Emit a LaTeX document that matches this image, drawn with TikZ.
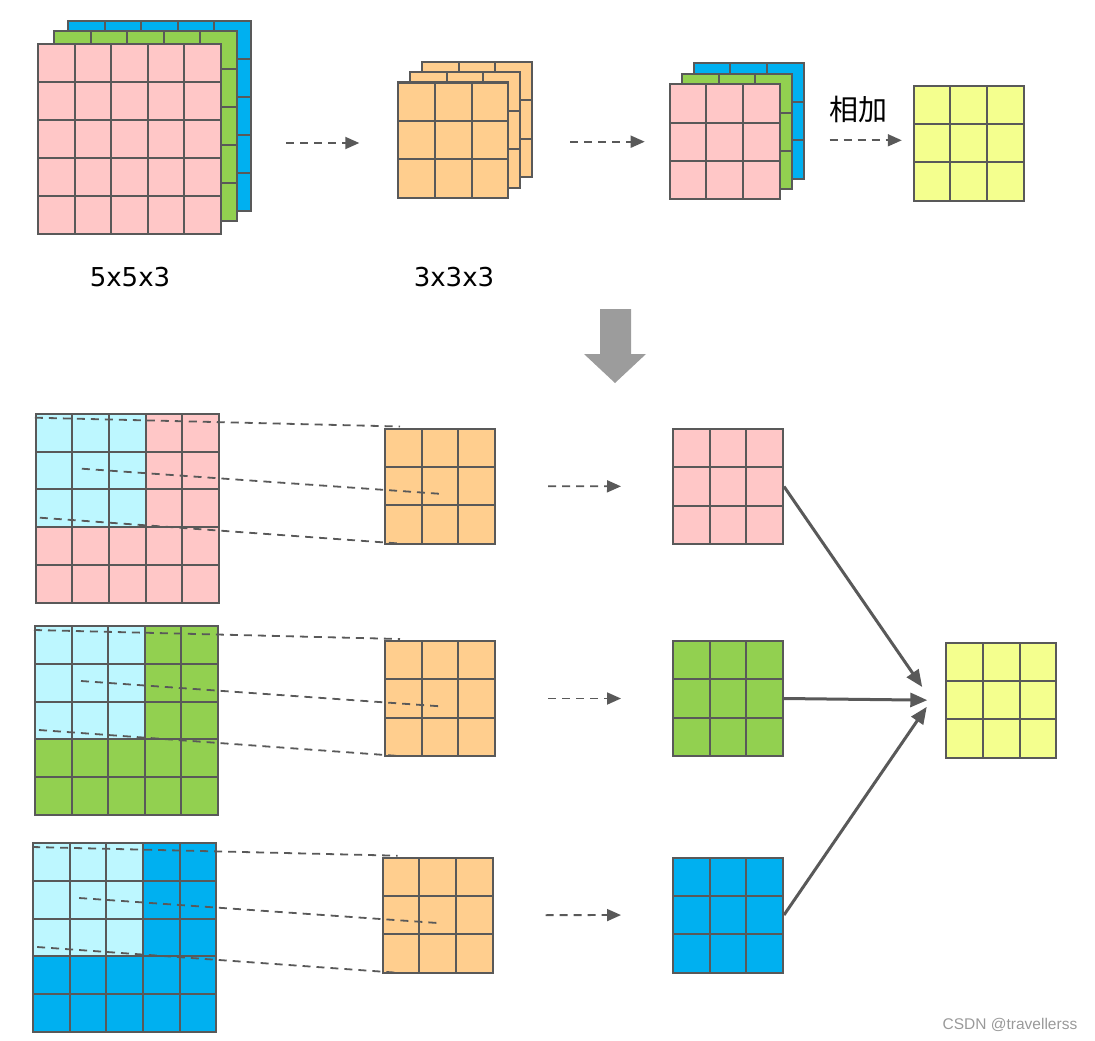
\documentclass[tikz,border=0pt]{standalone}
\usepackage{fontspec}
\setmainfont{DejaVu Sans}
\newfontfamily\cjk{Noto Sans CJK SC}
\newfontfamily\wmfont{Liberation Sans}
\usetikzlibrary{calc,arrows.meta}

\definecolor{edge}{HTML}{595959}
\definecolor{pinkc}{HTML}{FFC7C7}
\definecolor{greenc}{HTML}{92D050}
\definecolor{bluec}{HTML}{00B0F0}
\definecolor{orangec}{HTML}{FFCE8E}
\definecolor{yellowc}{HTML}{F4FF8E}
\definecolor{cyanlt}{HTML}{BDF7FF}
\definecolor{bigarrow}{HTML}{9C9C9C}

% inner lines of an n x n map
\newcommand{\gridlines}[1]{%
  \foreach \k in {1,...,#1}{%
    \draw[edge, line width=2pt]
      ($(path picture bounding box.south west)!{\k/(#1+1)}!(path picture bounding box.south east)$) --
      ($(path picture bounding box.north west)!{\k/(#1+1)}!(path picture bounding box.north east)$);
    \draw[edge, line width=2pt]
      ($(path picture bounding box.south west)!{\k/(#1+1)}!(path picture bounding box.north west)$) --
      ($(path picture bounding box.south east)!{\k/(#1+1)}!(path picture bounding box.north east)$);
  }}

\tikzset{
  cellbox/.style={draw=edge, line width=2pt, inner sep=0pt},
  bigmap/.style={cellbox, minimum width=183pt, minimum height=189pt, path picture={\gridlines{4}}},
  smallmap/.style={cellbox, minimum width=110pt, minimum height=115pt, path picture={\gridlines{2}}},
  scanmap/.style={cellbox, minimum width=183pt, minimum height=189pt,
    path picture={\fill[cyanlt] (path picture bounding box.north west) rectangle
      ($(path picture bounding box.north west)!0.6!(path picture bounding box.south east)$);
      \gridlines{4}}},
  link/.style={edge, line width=1.8pt, dash pattern=on 8pt off 6pt},
  flow/.style={link, -{Triangle[length=14pt,width=12pt]}},
  merge/.style={edge, line width=3pt, -{Triangle[length=17pt,width=14pt]}},
  dimtext/.style={font=\fontsize{26}{30}\selectfont},
}

\begin{document}
\begin{tikzpicture}[x=1pt, y=-1pt]
\useasboundingbox (0,0) rectangle (1095,1041);

% top: 5x5x3 input, 3x3x3 kernel, 3 channel outputs, sum
\begin{scope}
\node[bigmap, fill=bluec] (inB) at (159.5,116) {};
\node[bigmap, fill=greenc] (inG) at (145.5,126) {};
\node[bigmap, fill=pinkc] (inR) at (129.5,139) {};

\node[smallmap, fill=orangec] (kerC) at (477,119.5) {};
\node[smallmap, fill=orangec] (kerB) at (465,130) {};
\node[smallmap, fill=orangec] (kerA) at (453.3,140) {};

\node[smallmap, fill=bluec] (outB) at (748.7,121) {};
\node[smallmap, fill=greenc] (outG) at (737,131.7) {};
\node[smallmap, fill=pinkc] (outR) at (724.7,141.7) {};

\node[smallmap, fill=yellowc] (sumTop) at (968.8,143.3) {};

\node[dimtext] (dimIn) at (130,277) {5x5x3};
\node[dimtext] (dimKer) at (454,277) {3x3x3};
\node[font=\cjk\fontsize{29}{32}\selectfont] (addText) at (858,109) {相加};

\draw[flow, shorten <=34pt, shorten >=38pt] ([yshift=-3pt]inB.east |- kerA) -- ([yshift=-3pt]kerA.west);
\draw[flow, shorten <=37pt, shorten >=24pt] (kerC.east |- outR) -- (outR.west);
\draw[flow, shorten <=25pt, shorten >=11pt] ([yshift=3pt]outB.east |- sumTop) -- ([yshift=3pt]sumTop.west);
\end{scope}

% big arrow down
\fill[bigarrow] (600,309) -- (631,309) -- (631,354) -- (646,354) -- (615,383) -- (584,354) -- (600,354) -- cycle;

% bottom: one channel at a time
\begin{scope}
\node[scanmap, fill=pinkc] (scan1) at (127.3,508.2) {};
\node[scanmap, fill=greenc] (scan2) at (126.5,720.5) {};
\node[scanmap, fill=bluec] (scan3) at (124.7,937.5) {};

\node[smallmap, fill=orangec] (kern1) at (440,486) {};
\node[smallmap, fill=orangec] (kern2) at (440,698.5) {};
\node[smallmap, fill=orangec] (kern3) at (437.7,915.2) {};

\node[smallmap, fill=pinkc] (res1) at (728,486.5) {};
\node[smallmap, fill=greenc] (res2) at (728,698.5) {};
\node[smallmap, fill=bluec] (res3) at (728,915) {};

\node[smallmap, fill=yellowc] (total) at (1001.3,700.2) {};
\coordinate (hub) at ([xshift=-14pt]total.west);

\foreach \r in {1,2,3}{
  \draw[link] ([shift={(0,5)}]scan\r.north west) -- ([shift={(16,-1)}]kern\r.north west);
  \draw[link] ([shift={(47,56)}]scan\r.north west) -- ([shift={(3,8)}]kern\r.center);
  \draw[link] ([shift={(5,105)}]scan\r.north west) -- ([shift={(15,-1)}]kern\r.south west);
  \draw[flow, shorten <=52pt, shorten >=51pt] (kern\r.east) -- (res\r.west);
}

\draw[merge, shorten >=16pt] (res1.east) -- (hub);
\draw[merge, shorten >=4pt] (res2.east) -- (hub);
\draw[merge, shorten >=8pt] (res3.east) -- (hub);
\end{scope}

\node[text=black!40, font=\wmfont\fontsize{15.5}{18}\selectfont] (mark) at (1010,1025) {CSDN @travellerss};

\end{tikzpicture}
\end{document}
